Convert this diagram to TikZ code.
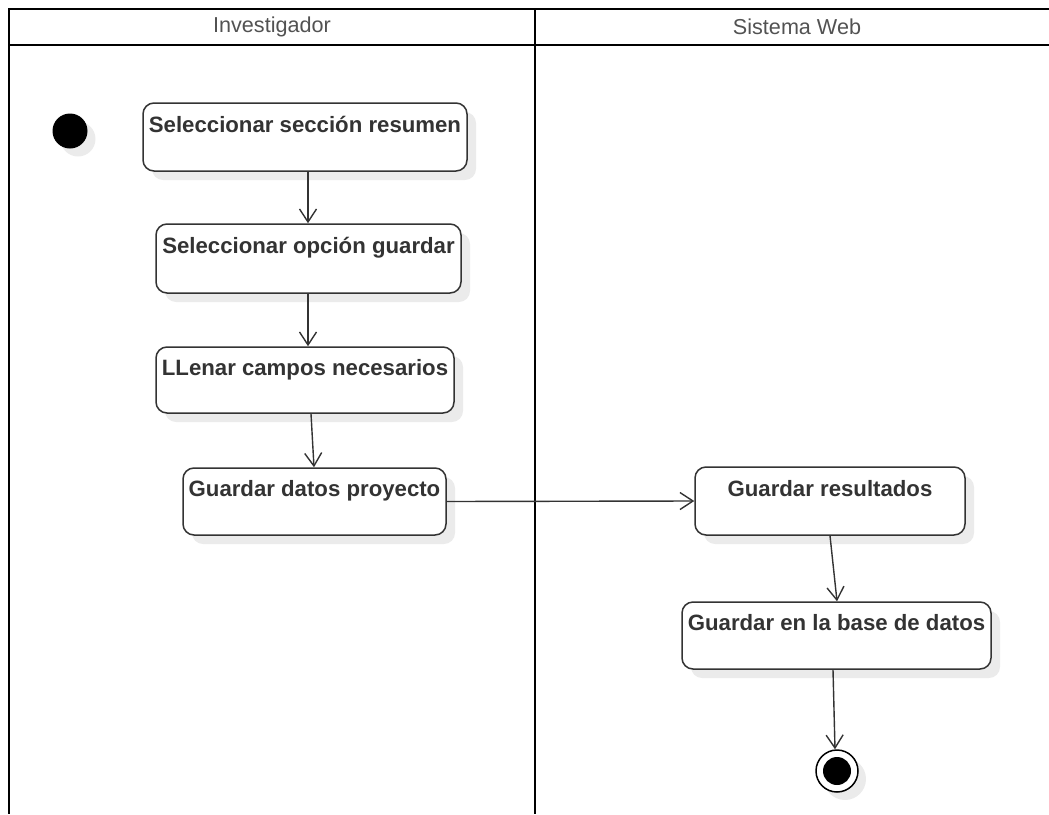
\documentclass[tikz,border=0pt]{standalone}
\usepackage{fontspec}
\setmainfont{Liberation Sans}
\usetikzlibrary{arrows.meta,shadows}
\definecolor{ink}{HTML}{333333}
\definecolor{shade}{HTML}{EBEBEB}
\tikzset{
  lane/.style={line width=2.6pt, black},
  lanetitle/.style={font=\fontsize{21.6}{25}\selectfont, text=ink!85, inner sep=0pt},
  act/.style={draw=ink, line width=1.5pt, rounded corners=11pt, fill=white,
    align=center, inner sep=0pt, font=\bfseries\fontsize{22.2}{24}\selectfont, text=ink,
    drop shadow={fill=shade, opacity=1, shadow xshift=9pt, shadow yshift=-9pt}},
  flow/.style={draw=ink, line width=1.4pt, -{Straight Barb[length=13pt,width=17pt,line width=1.4pt]}},
  startnode/.style={circle, fill=black, minimum size=35pt, inner sep=0pt,
    drop shadow={fill=shade, opacity=1, shadow xshift=8pt, shadow yshift=-8pt}},
  endring/.style={circle, draw=black, line width=1.5pt, fill=white, minimum size=42pt, inner sep=0pt,
    drop shadow={fill=shade, opacity=1, shadow xshift=8pt, shadow yshift=-8pt}},
  enddot/.style={circle, fill=black, minimum size=28pt, inner sep=0pt},
}
\begin{document}
\begin{tikzpicture}[x=1pt,y=-1pt]
\useasboundingbox (0,0) rectangle (1049,814);
% swimlane frame
\draw[lane] (1049,9) -- (9,9) -- (9,814);
\draw[lane] (9,45) -- (1049,45);
\draw[lane] (535,9) -- (535,814);
\node[lanetitle] (t1) at (272,27) {Investigador};
\node[lanetitle] (t2) at (797,27) {Sistema Web};
% initial state
\node[startnode] (ini) at (70,131) {};
% actions of the researcher
\node[act, minimum width=324pt, minimum height=68pt] (a1) at (305,137) {Seleccionar sección resumen\\[2pt]\mbox{}};
\node[act, minimum width=305pt, minimum height=69pt] (a2) at (308.5,258.5) {Seleccionar opción guardar\\[2pt]\mbox{}};
\node[act, minimum width=298pt, minimum height=66pt] (a3) at (305,380) {LLenar campos necesarios\\[2pt]\mbox{}};
\node[act, minimum width=263pt, minimum height=67pt] (a4) at (314.5,501.5) {Guardar datos proyecto\\[2pt]\mbox{}};
% actions of the web system
\node[act, minimum width=270pt, minimum height=68pt] (b1) at (830,501) {Guardar resultados\\[2pt]\mbox{}};
\node[act, minimum width=309pt, minimum height=67pt] (b2) at (836.5,635.5) {Guardar en la base de datos\\[2pt]\mbox{}};
% final state
\node[endring] (fin) at (837,771) {};
\node[enddot] (findot) at (fin) {};
% control flow
\draw[flow] (a1.south -| 308,0) -- (a2.north -| 308,0);
\draw[flow] (a2.south -| 308,0) -- (a3.north -| 308,0);
\draw[flow] (a3.south -| 311,0) -- (a4.north -| 314,0);
\draw[flow] (a4.east) -- (b1.west);
\draw[flow] (b1.south -| 830,0) -- (b2.north -| 837,0);
\draw[flow] (b2.south -| 833,0) -- (fin.north -| 835,0);
\end{tikzpicture}
\end{document}
